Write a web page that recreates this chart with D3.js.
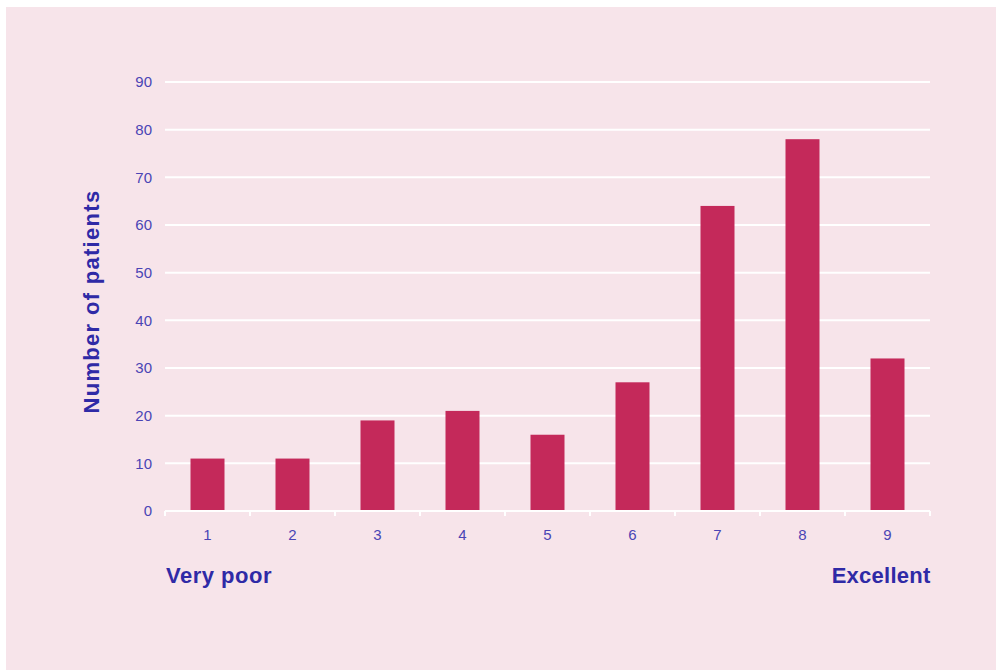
<!DOCTYPE html>
<html><head><meta charset="utf-8">
<script src="https://cdn.jsdelivr.net/npm/d3@7"></script>
<style>html,body{margin:0;padding:0;background:#fff;}svg{display:block;}</style>
</head><body>
<script>
const categories = ["1","2","3","4","5","6","7","8","9"];
const values = [11, 11, 19, 21, 16, 27, 64, 78, 32];
const yTicks = [0,10,20,30,40,50,60,70,80,90];
const yTitle = "Number of patients";
const leftLabel = "Very poor";
const rightLabel = "Excellent";

const W = 996, H = 670;
const m = {left:165, right:66, top:82, bottom:159};
const svg = d3.select("body").append("svg").attr("width", W).attr("height", H);
svg.append("rect").attr("x",6).attr("y",7).attr("width",W-6).attr("height",H-7).attr("fill","#f7e4ea");

const x = d3.scaleBand().domain(categories).range([m.left, W-m.right]).paddingInner(0).paddingOuter(0);
const y = d3.scaleLinear().domain([0,90]).range([H-m.bottom, m.top]);

const tickColor = "#4a44b5";
const titleColor = "#2f2aa6";
const ff = "Liberation Sans, Arial, sans-serif";

// gridlines
svg.append("g").selectAll("line").data(yTicks.filter(d=>d>0)).join("line")
  .attr("x1", m.left).attr("x2", W-m.right)
  .attr("y1", d=>y(d)).attr("y2", d=>y(d))
  .attr("stroke","#ffffff").attr("stroke-width",2);

// y labels
svg.append("g").selectAll("text").data(yTicks).join("text")
  .attr("x", 152).attr("y", d=>y(d)).attr("dy","0.36em")
  .attr("text-anchor","end").attr("fill",tickColor)
  .attr("font-family",ff).attr("font-size",15)
  .text(d=>d);

// bars
const bw = 34;
svg.append("g").selectAll("rect").data(values).join("rect")
  .attr("x",(d,i)=>x(categories[i]) + x.bandwidth()/2 - bw/2)
  .attr("width", bw)
  .attr("y", d=>y(d)).attr("height", d=>y(0)-y(d))
  .attr("fill","#c4295a");

// x axis baseline + ticks
const xa = svg.append("g").attr("transform",`translate(0,${y(0)})`);
xa.append("line").attr("x1",m.left).attr("x2",W-m.right).attr("y1",0).attr("y2",0)
  .attr("stroke","#ffffff").attr("stroke-width",2);
const bounds = categories.map(c=>x(c)).concat([W-m.right]);
xa.selectAll("line.tk").data(bounds).join("line").attr("class","tk")
  .attr("x1",d=>d).attr("x2",d=>d).attr("y1",0).attr("y2",5)
  .attr("stroke","#ffffff").attr("stroke-width",2);
xa.selectAll("text").data(categories).join("text")
  .attr("x",d=>x(d)+x.bandwidth()/2).attr("y",29)
  .attr("text-anchor","middle").attr("fill",tickColor)
  .attr("font-family",ff).attr("font-size",15)
  .text(d=>d);

// titles
svg.append("text").attr("transform",`translate(99,${(y(0)+y(90))/2+5}) rotate(-90)`)
  .attr("text-anchor","middle").attr("fill",titleColor)
  .attr("font-family",ff).attr("font-size",22).attr("font-weight","bold")
  .attr("letter-spacing",1.3)
  .text(yTitle);
svg.append("text").attr("x",m.left+1).attr("y",583)
  .attr("fill",titleColor).attr("font-family",ff).attr("letter-spacing",0.5)
  .attr("font-size",22).attr("font-weight","bold").text(leftLabel);
svg.append("text").attr("x",W-m.right+0.5).attr("y",583).attr("text-anchor","end")
  .attr("fill",titleColor).attr("font-family",ff).attr("letter-spacing",0.25)
  .attr("font-size",22).attr("font-weight","bold").text(rightLabel);
</script>
</body></html>
